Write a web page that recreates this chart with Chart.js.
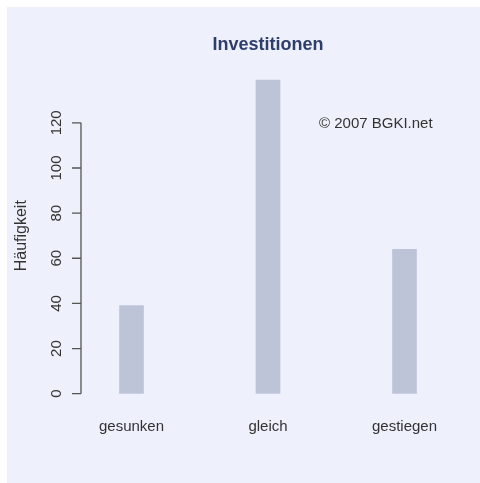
<!DOCTYPE html>
<html>
<head>
<meta charset="utf-8">
<script src="https://cdn.jsdelivr.net/npm/chart.js@4.4.1/dist/chart.umd.min.js"></script>
<style>
html, body { margin: 0; padding: 0; background: #ffffff; }
canvas { display: block; }
</style>
</head>
<body>
<canvas id="chart" width="480" height="483"></canvas>
<script>
// data
var categories = ['gesunken', 'gleich', 'gestiegen'];
var counts = [39, 139, 64];
var yTicks = [0, 20, 40, 60, 80, 100, 120];
var titleText = 'Investitionen';
var yTitle = 'Häufigkeit';
var noteText = '© 2007 BGKI.net';

var fontFamily = '"Liberation Sans", Arial, Helvetica, sans-serif';

// panel background, R style y axis and the copyright note
var rStyle = {
    id: 'rStyle',
    beforeDraw: function(chart) {
        var ctx = chart.ctx;
        ctx.save();
        ctx.fillStyle = '#eef0fb';
        ctx.fillRect(7, 7, chart.width - 7, chart.height - 7);
        ctx.restore();
    },
    afterDraw: function(chart) {
        var ctx = chart.ctx;
        var y = chart.scales.y;
        var axisX = 81;
        var top = y.getPixelForValue(yTicks[yTicks.length - 1]);
        var bottom = y.getPixelForValue(yTicks[0]);

        ctx.save();
        ctx.strokeStyle = '#555555';
        ctx.lineWidth = 1.3;
        ctx.beginPath();
        ctx.moveTo(axisX, top);
        ctx.lineTo(axisX, bottom);
        yTicks.forEach(function(v) {
            var py = y.getPixelForValue(v);
            ctx.moveTo(axisX - 9, py);
            ctx.lineTo(axisX, py);
        });
        ctx.stroke();

        ctx.fillStyle = '#333333';
        ctx.font = '15px ' + fontFamily;
        ctx.textAlign = 'center';
        ctx.textBaseline = 'middle';
        yTicks.forEach(function(v) {
            var py = y.getPixelForValue(v);
            ctx.save();
            ctx.translate(57, py);
            ctx.rotate(-Math.PI / 2);
            ctx.fillText(String(v), 0, 0);
            ctx.restore();
        });

        // axis title
        ctx.save();
        ctx.font = '16px ' + fontFamily;
        ctx.translate(22, (chart.chartArea.top + chart.chartArea.bottom) / 2);
        ctx.rotate(-Math.PI / 2);
        ctx.fillText(yTitle, 0, 0);
        ctx.restore();

        // note
        ctx.font = '15px ' + fontFamily;
        ctx.textAlign = 'left';
        ctx.fillText(noteText, 319, 124);
        ctx.restore();
    }
};

new Chart(document.getElementById('chart'), {
    type: 'bar',
    data: {
        labels: categories,
        datasets: [{
            label: yTitle,
            data: counts,
            backgroundColor: '#bec4d8',
            borderWidth: 0,
            barThickness: 24
        }]
    },
    options: {
        responsive: false,
        animation: false,
        layout: {
            padding: { top: 7, left: 63.25, right: 7.25, bottom: 23.3 }
        },
        plugins: {
            legend: { display: false },
            tooltip: { enabled: false },
            title: {
                display: true,
                text: titleText,
                color: '#2e3d6c',
                font: { family: fontFamily, size: 18, weight: 'bold', lineHeight: 1.2 },
                padding: { top: 27.2, bottom: 21.9 }
            }
        },
        scales: {
            x: {
                offset: true,
                grid: { display: false, drawTicks: false, tickLength: 0 },
                border: { display: false },
                ticks: {
                    color: '#333333',
                    padding: 24,
                    font: { family: fontFamily, size: 15 }
                }
            },
            y: {
                display: false,
                min: 0,
                max: 140
            }
        }
    },
    plugins: [rStyle]
});
</script>
</body>
</html>
